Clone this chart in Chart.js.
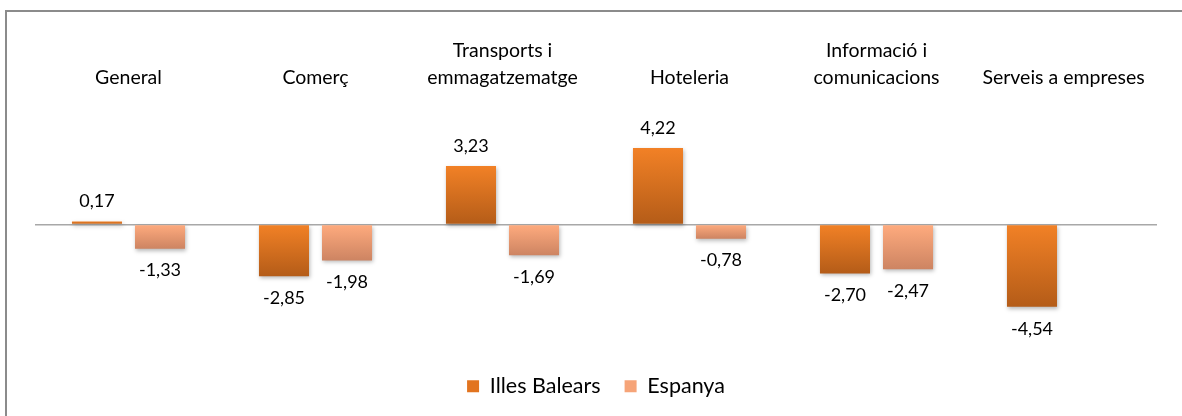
<!DOCTYPE html>
<html>
<head>
<meta charset="utf-8">
<script src="https://cdn.jsdelivr.net/npm/chart.js@4/dist/chart.umd.min.js"></script>
<style>
  html, body { margin: 0; padding: 0; background: #fff; overflow: hidden; }
  #frame { position: absolute; left: 5px; top: 10px; width: 1250px; height: 500px; border: 2px solid #8b8b8b; box-sizing: border-box; }
  #wrap { position: absolute; left: 0; top: 0; width: 1182px; height: 416px; }
</style>
</head>
<body>
<div id="frame"></div>
<div id="wrap"><canvas id="chart"></canvas></div>
<script>
const categories = [
  'General',
  'Comerç',
  ['Transports i', 'emmagatzematge'],
  'Hoteleria',
  ['Informació i', 'comunicacions'],
  'Serveis a empreses'
]
const illesBalears = [0.17, -2.85, 3.23, 4.22, -2.70, -4.54]
const espanya = [-1.33, -1.98, -1.69, -0.78, -2.47, null]

const FONT = 'Lato, "Open Sans", sans-serif'
const legendColors = ['#e2741f', '#f6a478']

// vertical gradient per bar, light at the top, darker at the bottom
function barFill(top, bottom, solid) {
  return (ctx) => {
    const ys = ctx.chart.scales.y
    if (ctx.type !== 'data' || !ys || ctx.parsed == null) return solid
    const v = ctx.parsed.y
    const y0 = ys.getPixelForValue(Math.max(v, 0))
    const y1 = ys.getPixelForValue(Math.min(v, 0))
    if (!isFinite(y0) || !isFinite(y1) || y0 === y1) return solid
    const g = ctx.chart.ctx.createLinearGradient(0, y0, 0, y1)
    g.addColorStop(0, top)
    g.addColorStop(1, bottom)
    return g
  }
}

const shadowAndLabels = {
  id: 'shadowAndLabels',
  beforeDatasetsDraw(chart) {
    const c = chart.ctx
    c.save()
    c.shadowColor = 'rgba(0,0,0,0.28)'
    c.shadowBlur = 4
    c.shadowOffsetX = 1
    c.shadowOffsetY = 2
  },
  afterDatasetsDraw(chart) {
    const c = chart.ctx
    c.restore()
    c.save()
    c.font = '18px ' + FONT
    c.fillStyle = '#000'
    c.textAlign = 'center'
    c.textBaseline = 'middle'
    chart.data.datasets.forEach((ds, i) => {
      const meta = chart.getDatasetMeta(i)
      meta.data.forEach((el, j) => {
        const v = ds.data[j]
        if (v == null) return
        const txt = v.toFixed(2).replace('.', ',')
        const y = v >= 0 ? el.y - 20 : el.y + 22
        c.fillText(txt, el.x, y)
      })
    })
    c.restore()
  }
}

new Chart(document.getElementById('chart'), {
  type: 'bar',
  data: {
    labels: categories,
    datasets: [
      {
        label: 'Illes Balears',
        data: illesBalears,
        backgroundColor: barFill('#f28126', '#b45c18', legendColors[0]),
        borderWidth: 0
      },
      {
        label: 'Espanya',
        data: espanya,
        backgroundColor: barFill('#ffab7e', '#cd8462', legendColors[1]),
        borderWidth: 0
      }
    ]
  },
  options: {
    responsive: true,
    maintainAspectRatio: false,
    animation: false,
    categoryPercentage: 0.674,
    barPercentage: 0.794,
    layout: { padding: { left: 35, right: 25, top: 13, bottom: 9 } },
    scales: {
      x: {
        position: 'top',
        grid: { display: false, drawTicks: false },
        border: { display: false },
        ticks: {
          padding: 25,
          color: '#000',
          font: { family: FONT, size: 19.5, lineHeight: 1.35 },
          maxRotation: 0,
          autoSkip: false
        }
      },
      y: {
        min: -7.0,
        max: 6,
        border: { display: false },
        grid: {
          drawTicks: false,
          lineWidth: 1.5,
          color: (ctx) => (ctx.tick && ctx.tick.value === 0 ? '#a8a8a8' : 'rgba(0,0,0,0)')
        },
        ticks: { display: false, stepSize: 1 }
      }
    },
    plugins: {
      legend: {
        position: 'bottom',
        labels: {
          boxWidth: 12,
          boxHeight: 12,
          padding: 24,
          color: '#000',
          font: { family: FONT, size: 21.5 },
          generateLabels: (chart) => Chart.defaults.plugins.legend.labels.generateLabels(chart)
            .map((item, i) => Object.assign(item, { fillStyle: legendColors[i], lineWidth: 0 }))
        }
      },
      tooltip: { enabled: false }
    }
  },
  plugins: [shadowAndLabels]
})
</script>
</body>
</html>
